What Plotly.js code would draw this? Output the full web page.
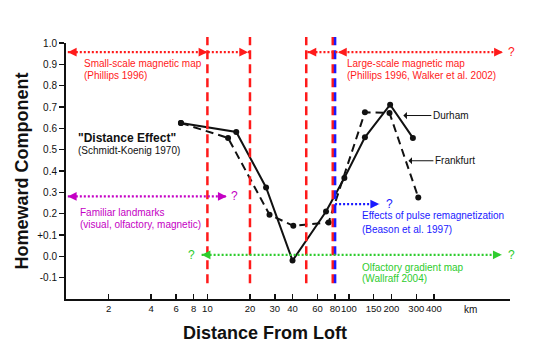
<!DOCTYPE html>
<html>
<head>
<meta charset="utf-8">
<script src="https://cdn.plot.ly/plotly-3.0.1.min.js"></script>
<style>html,body{margin:0;padding:0;background:#fff;}#chart{width:538px;height:362px;}</style>
</head>
<body>
<div id="chart"></div>
<script>
// ---- data ----
const durhamKm   = [6.5, 16, 26, 40, 69, 93, 130, 196, 284];
const durhamHome = [0.625, 0.583, 0.323, -0.02, 0.21, 0.367, 0.558, 0.711, 0.555];
const frankfurtKm   = [6.5, 14, 27.5, 40.5, 72, 130, 194, 310];
const frankfurtHome = [0.625, 0.555, 0.195, 0.143, 0.159, 0.675, 0.672, 0.276];

const xTickVals = [2, 4, 6, 8, 10, 20, 30, 40, 60, 80, 100, 150, 200, 300, 400];
const xTickText = ['2', '4', '6', '8', '10', '20', '30', '40', '60', '80', '100', '150', '200', '300', '400'];
const yTickVals = [-0.1, 0, 0.1, 0.2, 0.3, 0.4, 0.5, 0.6, 0.7, 0.8, 0.9, 1.0];
const yTickText = ['-0.1', '0.0', '+0.1', '0.2', '0.3', '0.4', '0.5', '0.6', '0.7', '0.8', '0.9', '1.0'];

// boundaries between navigation mechanisms (km)
const magneticBoundariesKm = [10, 20, 50, 77];
const remagnetizationKm = 80;

// ranges of each mechanism: [fromKm, toKm, level]
const smallScaleRange = [1.03, 20, 0.957];
const largeScaleRange = [51, 1230, 0.957];
const landmarkRange   = [1.03, 13.7, 0.281];
const remagRange      = [80, 164, 0.245];
const olfactoryRange  = [9.1, 1206, 0.007];

const RED = '#ff1a1a', PURPLE = '#c400c4', BLUE = '#1a1aff', GREEN = '#2ecc2e';
const FONT = 'Arial, "Liberation Sans", sans-serif';
const L = v => Math.log10(v);

const traces = [
  {x: durhamKm, y: durhamHome, name: 'Durham', type: 'scatter', mode: 'lines+markers',
   line: {color: '#111', width: 2}, marker: {color: '#111', size: 6}},
  {x: frankfurtKm, y: frankfurtHome, name: 'Frankfurt', type: 'scatter', mode: 'lines+markers',
   line: {color: '#111', width: 2, dash: '8px,5px'}, marker: {color: '#111', size: 6}}
];

const shapes = [];
magneticBoundariesKm.forEach(k => shapes.push({type: 'line', xref: 'x', yref: 'paper', x0: k, x1: k,
  y0: 0.062, y1: 1.023, line: {color: RED, width: 2.5, dash: '9px,5px'}, layer: 'above'}));
shapes.push({type: 'line', xref: 'x', yref: 'paper', x0: remagnetizationKm, x1: remagnetizationKm,
  y0: 0.062, y1: 1.023, line: {color: BLUE, width: 2.5, dash: '9px,5px'}, layer: 'above'});
function dotted(r, color) {
  shapes.push({type: 'line', xref: 'x', yref: 'y', x0: r[0], x1: r[1], y0: r[2], y1: r[2],
    line: {color: color, width: 2.2, dash: '2px,2px'}});
}
dotted(smallScaleRange, RED);
dotted(largeScaleRange, RED);
dotted(landmarkRange, PURPLE);
dotted(remagRange, BLUE);
dotted(olfactoryRange, GREEN);

const ann = [];
function head(km, y, dir, color) {
  ann.push({x: L(km), y: y, xref: 'x', yref: 'y', text: '', showarrow: true,
    ax: dir > 0 ? -7 : 7, ay: 0, arrowhead: 2, arrowsize: 1.1, arrowwidth: 1.6, arrowcolor: color});
}
function q(x, y, color, xref) {
  ann.push({x: x, y: y, xref: xref || 'x', yref: 'y', text: '?', showarrow: false,
    xanchor: 'center', yanchor: 'middle', font: {family: FONT, size: 12, color: color}});
}
function txt(km, y, s, color, size, bold) {
  ann.push({x: L(km), y: y, xref: 'x', yref: 'y', text: bold ? '<b>' + s + '</b>' : s, showarrow: false,
    xanchor: 'left', yanchor: 'middle', font: {family: FONT, size: size, color: color}});
}
// arrowheads
head(smallScaleRange[0], smallScaleRange[2], -1, RED);
head(10, smallScaleRange[2], 1, RED);
head(smallScaleRange[1] * 0.97, smallScaleRange[2], 1, RED);
head(largeScaleRange[0], largeScaleRange[2], -1, RED);
head(83.8, largeScaleRange[2], -1, RED);
head(largeScaleRange[1], largeScaleRange[2], 1, RED);
head(landmarkRange[0], landmarkRange[2], -1, PURPLE);
head(landmarkRange[1], landmarkRange[2], 1, PURPLE);
head(remagRange[1], remagRange[2], 1, BLUE);
head(olfactoryRange[0], olfactoryRange[2], -1, GREEN);
head(olfactoryRange[1], olfactoryRange[2], 1, GREEN);
// question marks
q(1.004, largeScaleRange[2], RED, 'paper');
q(L(15.5), landmarkRange[2], PURPLE);
q(L(195), remagRange[2], BLUE);
q(L(7.7), olfactoryRange[2], GREEN);
q(1.004, olfactoryRange[2], GREEN, 'paper');
// labels
txt(1.30, 0.902, 'Small-scale magnetic map', RED, 10);
txt(1.30, 0.849, '(Phillips 1996)', RED, 10);
txt(94, 0.902, 'Large-scale magnetic map', RED, 10);
txt(94, 0.849, '(Phillips 1996, Walker et al. 2002)', RED, 10);
txt(1.177, 0.556, '"Distance Effect"', '#111', 12, true);
txt(1.177, 0.497, '(Schmidt-Koenig 1970)', '#111', 10);
txt(1.22, 0.206, 'Familiar landmarks', PURPLE, 10);
txt(1.22, 0.151, '(visual, olfactory, magnetic)', PURPLE, 10);
txt(120, 0.190, 'Effects of pulse remagnetization', BLUE, 10);
txt(120, 0.128, '(Beason et al. 1997)', BLUE, 10);
txt(120, -0.051, 'Olfactory gradient map', GREEN, 10);
txt(120, -0.102, '(Wallraff 2004)', GREEN, 10);
// series labels with pointers
ann.push({x: L(243), y: 0.660, xref: 'x', yref: 'y', text: 'Durham', showarrow: true, ax: 28, ay: 0,
  xanchor: 'left', arrowhead: 1, arrowsize: 1.2, arrowwidth: 1, arrowcolor: '#111', standoff: 0,
  font: {family: FONT, size: 10, color: '#111'}});
ann.push({x: L(264), y: 0.448, xref: 'x', yref: 'y', text: 'Frankfurt', showarrow: true, ax: 25, ay: 0,
  xanchor: 'left', arrowhead: 1, arrowsize: 1.2, arrowwidth: 1, arrowcolor: '#111', standoff: 0,
  font: {family: FONT, size: 10, color: '#111'}});
ann.push({x: L(720), y: -0.04, xref: 'x', yref: 'paper', text: 'km', showarrow: false,
  xanchor: 'center', yanchor: 'middle', font: {family: FONT, size: 10, color: '#111'}});
// x-axis title (offset left of the axis centre, as in the reference)
ann.push({x: L(25.5), y: -0.133, xref: 'x', yref: 'paper', text: '<b>Distance From Loft</b>', showarrow: false,
  xanchor: 'center', yanchor: 'middle', font: {family: FONT, size: 18, color: '#111'}});

const layout = {
  width: 538, height: 362,
  margin: {l: 66, r: 28, t: 43, b: 63},
  paper_bgcolor: '#fff', plot_bgcolor: '#fff',
  showlegend: false,
  font: {family: FONT, color: '#111'},
  xaxis: {
    type: 'log', range: [0, 3.14], tickvals: xTickVals, ticktext: xTickText, tickangle: 0,
    ticks: 'inside', ticklen: 5, tickwidth: 1.5, tickcolor: '#111',
    showline: true, linecolor: '#111', linewidth: 2, showgrid: false, zeroline: false,
    tickfont: {family: FONT, size: 9.5, color: '#111'}
  },
  yaxis: {
    range: [-0.2, 1.0], tickvals: yTickVals, ticktext: yTickText,
    ticks: 'outside', ticklen: 5, tickwidth: 1.5, tickcolor: '#111',
    showline: true, linecolor: '#111', linewidth: 2, showgrid: false, zeroline: false,
    tickfont: {family: FONT, size: 10, color: '#111'},
    title: {text: '<b>Homeward Component</b>', font: {family: FONT, size: 18, color: '#111'}, standoff: 4}
  },
  shapes: shapes,
  annotations: ann
};

Plotly.newPlot('chart', traces, layout, {displayModeBar: false, staticPlot: true});
</script>
</body>
</html>
